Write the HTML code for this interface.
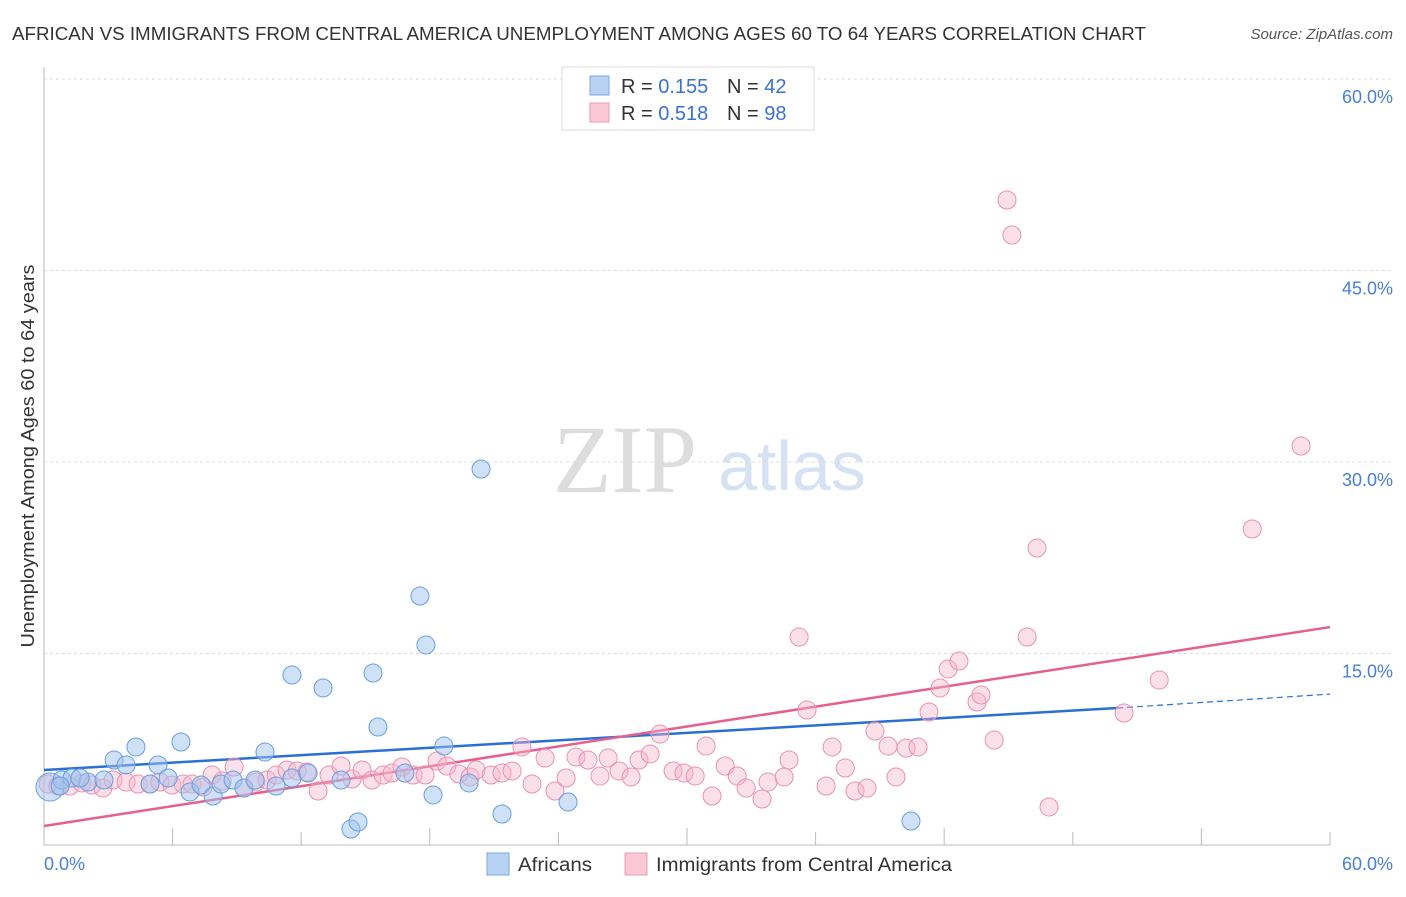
<!DOCTYPE html>
<html><head><meta charset="utf-8"><style>
body{margin:0;background:#fff;font-family:"Liberation Sans",sans-serif;}
</style></head><body>
<svg width="1406" height="892" xmlns="http://www.w3.org/2000/svg" font-family="Liberation Sans, sans-serif">
<text x="12" y="40" font-size="18" fill="#333" textLength="1134" lengthAdjust="spacingAndGlyphs">AFRICAN VS IMMIGRANTS FROM CENTRAL AMERICA UNEMPLOYMENT AMONG AGES 60 TO 64 YEARS CORRELATION CHART</text>
<text x="1393" y="39" font-size="15" fill="#555" font-style="italic" text-anchor="end">Source: ZipAtlas.com</text>
<g>
<text x="553" y="492" font-size="96" font-family="Liberation Serif, serif" fill="#ddd">ZIP</text>
<text x="718" y="490" font-size="70" fill="#d6e2f4">atlas</text>
</g>
<g id="grid"></g>
<g id="axes"></g>
<g id="lines"></g>
<g id="pts"></g>
<text transform="translate(34,456) rotate(-90)" font-size="18" fill="#333" text-anchor="middle" textLength="383" lengthAdjust="spacingAndGlyphs">Unemployment Among Ages 60 to 64 years</text>
<text x="44" y="870" font-size="18" fill="#4a7fd4">0.0%</text>
<text x="1393" y="870" font-size="18" fill="#4a7fd4" text-anchor="end">60.0%</text>
<g>
<rect x="562" y="67" width="252" height="63" fill="#fff" stroke="#ddd"/>
<rect x="590" y="76" width="19" height="19" fill="#b8d2f4" stroke="#7aa6e0"/>
<text x="621" y="93" font-size="20" fill="#333">R = <tspan fill="#3a72d0">0.155</tspan><tspan x="727">N = </tspan><tspan fill="#3a72d0">42</tspan></text>
<rect x="590" y="103" width="19" height="19" fill="#fbc8d6" stroke="#eb9ab4"/>
<text x="621" y="120" font-size="20" fill="#333">R = <tspan fill="#3a72d0">0.518</tspan><tspan x="727">N = </tspan><tspan fill="#3a72d0">98</tspan></text>
</g>
<g>
<rect x="487" y="853" width="22" height="22" fill="#b8d2f4" stroke="#7aa6e0"/>
<text x="518" y="871" font-size="19" fill="#333" textLength="74" lengthAdjust="spacingAndGlyphs">Africans</text>
<rect x="625" y="853" width="22" height="22" fill="#fbc8d6" stroke="#eb9ab4"/>
<text x="656" y="871" font-size="19" fill="#333" textLength="296" lengthAdjust="spacingAndGlyphs">Immigrants from Central America</text>
</g>
</svg>
<script>
const yTicks=[15,30,45,60];
const yTickLabels=["15.0%","30.0%","45.0%","60.0%"];
const xTicks=[0,6,12,18,24,30,36,42,48,54,60];
const blueX=[0.28,0.84,1.31,2.05,2.80,3.27,3.83,4.29,4.95,5.32,5.79,6.39,6.81,7.33,7.89,8.26,8.82,9.33,9.85,10.31,10.83,11.57,11.57,12.32,13.02,13.86,14.32,14.65,15.35,15.58,16.84,17.54,17.82,18.15,18.66,19.83,20.39,21.37,24.45,40.45,0.75,1.68];
const blueY=[4.54,5.09,5.25,4.93,5.09,6.66,6.27,7.68,4.78,6.27,5.25,8.07,4.15,4.70,3.84,4.78,5.09,4.46,5.09,7.28,4.62,13.32,5.25,5.64,12.30,5.09,1.25,1.80,13.47,9.24,5.64,19.50,15.67,3.92,7.75,4.86,29.45,2.43,3.37,1.88,4.62,5.25];
const pinkX=[0.19,0.65,1.21,1.77,2.24,2.75,3.22,3.83,4.39,4.95,5.41,5.97,6.49,6.91,7.42,7.84,8.31,8.87,9.33,9.89,10.41,10.83,11.34,11.81,12.27,12.79,13.30,13.86,14.37,14.84,15.30,15.82,16.24,16.70,17.22,17.78,18.34,18.80,19.36,19.88,20.16,20.86,21.37,21.84,22.30,22.77,23.38,23.84,24.36,24.82,25.38,25.94,26.32,26.83,27.39,27.76,28.28,28.74,29.35,29.86,30.38,30.89,31.17,31.78,32.34,32.76,33.50,33.78,34.53,34.76,35.23,35.60,36.77,36.49,37.38,37.84,38.40,38.77,39.38,39.75,40.22,40.78,41.29,41.81,42.18,42.69,43.53,43.72,44.33,44.93,45.16,45.87,46.33,46.89,50.39,52.03,56.37,58.65];
const pinkY=[4.78,4.62,4.62,4.86,4.70,4.46,5.09,4.93,4.78,4.78,4.93,4.70,4.78,4.78,4.54,5.48,5.01,6.11,4.46,4.93,5.09,5.48,5.87,5.80,5.72,4.23,5.48,6.19,5.17,5.87,5.09,5.48,5.64,6.11,5.48,5.48,6.58,6.19,5.56,5.33,5.87,5.48,5.64,5.80,7.68,4.78,6.81,4.23,5.25,6.89,6.66,5.40,6.81,5.80,5.33,6.66,7.13,8.69,5.80,5.64,5.40,7.75,3.84,6.19,5.40,4.46,3.60,4.93,5.33,6.66,16.29,10.57,7.68,4.62,6.03,4.23,4.46,8.93,7.75,5.33,7.60,7.68,10.42,12.30,13.79,14.41,11.20,11.75,8.22,50.52,47.78,16.29,23.26,2.98,10.34,12.92,24.75,31.25];
const blueTrendX=[0,50.07,60];
const blueTrendY=[5.87,10.73,11.82];
const pinkTrendX=[0,60];
const pinkTrendY=[1.49,17.07];

const NS="http://www.w3.org/2000/svg";
const X=v=>44+v/60*1286;
const Y=v=>845-v/60*766;
function mk(tag,attrs,parent){const e=document.createElementNS(NS,tag);for(const k in attrs)e.setAttribute(k,attrs[k]);document.getElementById(parent).appendChild(e);return e;}

yTicks.forEach((t,i)=>{
  const g=mk('line',{x1:44,x2:1393,y1:Y(t),y2:Y(t),stroke:'#ddd','stroke-dasharray':'3,3'},'grid');
  
  
  const l=mk('text',{x:1393,y:Y(t)+24,'font-size':18,fill:'#4a7fd4','text-anchor':'end'},'grid');
  l.textContent=yTickLabels[i];
  
  
});
const ya=mk('line',{x1:44,x2:44,y1:67,y2:845,stroke:'#bbb'},'axes');


const xa=mk('line',{x1:44,x2:1330,y1:845,y2:845,stroke:'#bbb'},'axes');


xTicks.forEach((t,i)=>{
  const tk=mk('line',{x1:X(t),x2:X(t),y1:i%2?828:832,y2:845,stroke:'#bbb'},'axes');
  
  
});
function dot(x,y,r,f,s){const c=mk('circle',{cx:X(x),cy:Y(y),r:r,fill:f,stroke:s,'stroke-width':1},'pts');return c;}
pinkX.forEach((x,i)=>{
  const c=dot(x,pinkY[i],9,'rgba(248,182,202,0.42)','#e892ae');
  
  
});
blueX.forEach((x,i)=>{
  const c=dot(x,blueY[i],i===0?14:9,'rgba(160,196,240,0.5)','#6a9ee0');
  
  
});
const bl=mk('line',{x1:X(blueTrendX[0]),y1:Y(blueTrendY[0]),x2:X(blueTrendX[1]),y2:Y(blueTrendY[1]),stroke:'#2a6fd6','stroke-width':2.5},'lines');


const bd=mk('line',{x1:X(blueTrendX[1]),y1:Y(blueTrendY[1]),x2:X(blueTrendX[2]),y2:Y(blueTrendY[2]),stroke:'#2a6fd6','stroke-width':1.2,'stroke-dasharray':'6,4'},'lines');


const pl=mk('line',{x1:X(pinkTrendX[0]),y1:Y(pinkTrendY[0]),x2:X(pinkTrendX[1]),y2:Y(pinkTrendY[1]),stroke:'#e5608e','stroke-width':2.5},'lines');


</script>
</body></html>
